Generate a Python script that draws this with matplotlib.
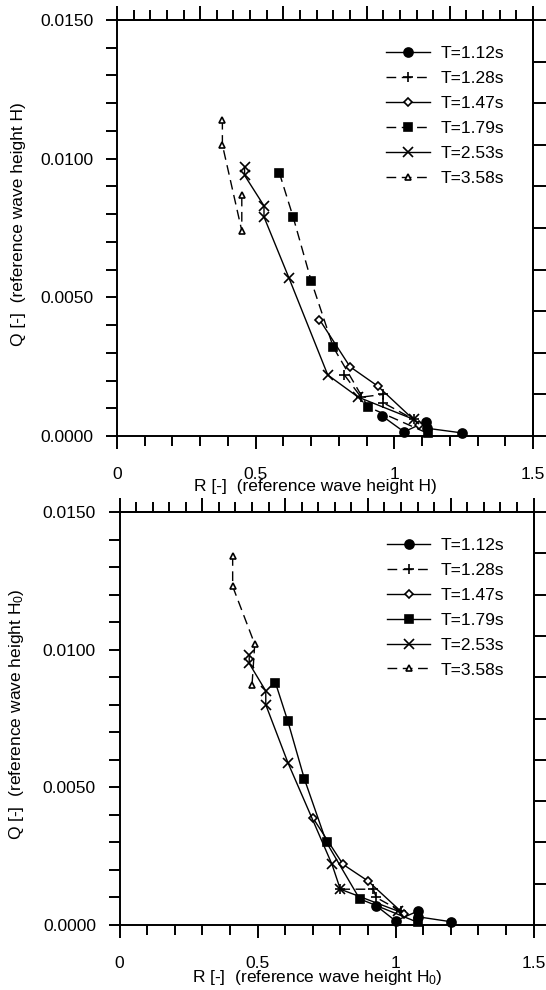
#!/usr/bin/env python
# -*- coding: utf-8 -*-

import numpy as np
import matplotlib
matplotlib.use('Agg')
import matplotlib.pyplot as plt
from matplotlib.ticker import MultipleLocator, NullFormatter, FormatStrFormatter

plt.rcParams['font.family'] = ['Liberation Sans', 'DejaVu Sans']
plt.rcParams['mathtext.fontset'] = 'custom'
plt.rcParams['mathtext.rm'] = 'Liberation Sans'
plt.rcParams['mathtext.it'] = 'Liberation Sans'
plt.rcParams['font.size'] = 12.5

labels = ['T=1.12s', 'T=1.28s', 'T=1.47s', 'T=1.79s', 'T=2.53s', 'T=3.58s']

# top panel: reference wave height H
top_x = [
    [0.955, 1.035, 1.115, 1.117, 1.245],
    [0.82, 0.88, 0.96, 0.96, 1.07],
    [0.73, 0.84, 0.94, 1.09],
    [0.585, 0.635, 0.70, 0.78, 0.905, 1.12],
    [0.46, 0.46, 0.53, 0.53, 0.62, 0.76, 0.87, 1.07],
    [0.38, 0.38, 0.45, 0.45],
]
top_y = [
    [0.00073, 0.00015, 0.00052, 0.00028, 0.00011],
    [0.0022, 0.0014, 0.0015, 0.0012, 0.0006],
    [0.0042, 0.0025, 0.0018, 0.0004],
    [0.0095, 0.0079, 0.0056, 0.0032, 0.00105, 0.0001],
    [0.0097, 0.0094, 0.0083, 0.0079, 0.0057, 0.0022, 0.0014, 0.0006],
    [0.0114, 0.0105, 0.0074, 0.0087],
]

# bottom panel: reference wave height H0
bot_x = [
    [0.93, 1.00, 1.08, 1.08, 1.20],
    [0.80, 0.92, 0.93, 1.02],
    [0.70, 0.81, 0.90, 1.03],
    [0.565, 0.61, 0.67, 0.75, 0.87, 1.08],
    [0.47, 0.47, 0.53, 0.53, 0.61, 0.77, 0.80, 1.01],
    [0.41, 0.41, 0.49, 0.48],
]
bot_y = [
    [0.0007, 0.00015, 0.0005, 0.0003, 0.00012],
    [0.0013, 0.0013, 0.0010, 0.0005],
    [0.0039, 0.0022, 0.0016, 0.0004],
    [0.0088, 0.0074, 0.0053, 0.0030, 0.00095, 0.0001],
    [0.0098, 0.0095, 0.0085, 0.0080, 0.0059, 0.0022, 0.0013, 0.0005],
    [0.0134, 0.0123, 0.0102, 0.0087],
]

markers = ['o', '+', 'D', 's', 'x', '^']
msizes = [6.5, 7, 4.5, 6, 6.5, 5]
filled = [True, True, False, True, True, False]
top_styles = ['-', '--', '-', '--', '-', '--']
bot_styles = ['-', '--', '-', '-', '-', '--']

LW = 1.4


def panel(ax, xs, ys, styles, xlab, ylab, ylx):
    handles = []
    for i in range(len(labels)):
        ls = styles[i]
        kw = dict(color='k', lw=1.0, marker=markers[i], ms=msizes[i],
                  mew=1.2, mfc='k' if filled[i] else 'white', mec='k',
                  clip_on=False, label=labels[i], zorder=3)
        if ls == '--':
            kw['dashes'] = (7, 4)
        else:
            kw['ls'] = '-'
        h, = ax.plot(xs[i], ys[i], **kw)
        handles.append(h)

    ax.set_xlim(0, 1.5)
    ax.set_ylim(0, 0.015)
    for s in ax.spines.values():
        s.set_linewidth(LW)

    ax.xaxis.set_major_locator(MultipleLocator(0.5))
    ax.xaxis.set_minor_locator(MultipleLocator(0.1))
    ax.xaxis.set_major_formatter(FormatStrFormatter('%g'))
    ax.yaxis.set_major_locator(MultipleLocator(0.005))
    ax.yaxis.set_minor_locator(MultipleLocator(0.001))
    ax.yaxis.set_major_formatter(FormatStrFormatter('%.4f'))
    ax.tick_params(axis='x', which='major', direction='out', length=9.4,
                   width=LW, pad=13, top=False)
    ax.tick_params(axis='x', which='minor', direction='out', length=7.2,
                   width=LW, top=False)
    ax.tick_params(axis='y', which='both', direction='out', length=8,
                   width=LW, pad=9, right=False)

    sx = ax.secondary_xaxis('top')
    sx.xaxis.set_major_locator(MultipleLocator(0.3))
    sx.xaxis.set_minor_locator(MultipleLocator(0.06))
    sx.xaxis.set_major_formatter(NullFormatter())
    sx.tick_params(which='major', direction='out', length=10, width=LW)
    sx.tick_params(which='minor', direction='out', length=7.2, width=LW)
    sx.spines['top'].set_linewidth(LW)

    sy = ax.secondary_yaxis('right')
    sy.yaxis.set_major_locator(MultipleLocator(0.0015))
    sy.yaxis.set_major_formatter(NullFormatter())
    sy.tick_params(which='major', direction='out', length=9.4, width=LW)
    sy.tick_params(which='minor', length=0)
    sy.spines['right'].set_linewidth(LW)

    ax.set_xlabel(xlab, x=0.478, labelpad=-2)
    ax.set_ylabel(ylab)
    ax.yaxis.set_label_coords(ylx, 0.51)

    ax.legend(handles=handles, loc='upper right', bbox_to_anchor=(0.93, 0.937),
              frameon=False, handlelength=2.5, handletextpad=0.6,
              labelspacing=0.56, borderpad=0, borderaxespad=0)


fig = plt.figure(figsize=(5.46, 9.90), dpi=100)
ax1 = fig.add_axes([117 / 546, 1 - 436 / 990, 416 / 546, 416 / 990])
ax2 = fig.add_axes([119.5 / 546, 1 - 925 / 990, 414 / 546, 413 / 990])

panel(ax1, top_x, top_y, top_styles,
      'R [-]  (reference wave height H)',
      'Q [-]  (reference wave height H)', -0.219)
panel(ax2, bot_x, bot_y, bot_styles,
      'R [-]  (reference wave height H$_0$)',
      'Q [-]  (reference wave height H$_0$)', -0.226)

fig.savefig('out.png', dpi=100, facecolor='white')
